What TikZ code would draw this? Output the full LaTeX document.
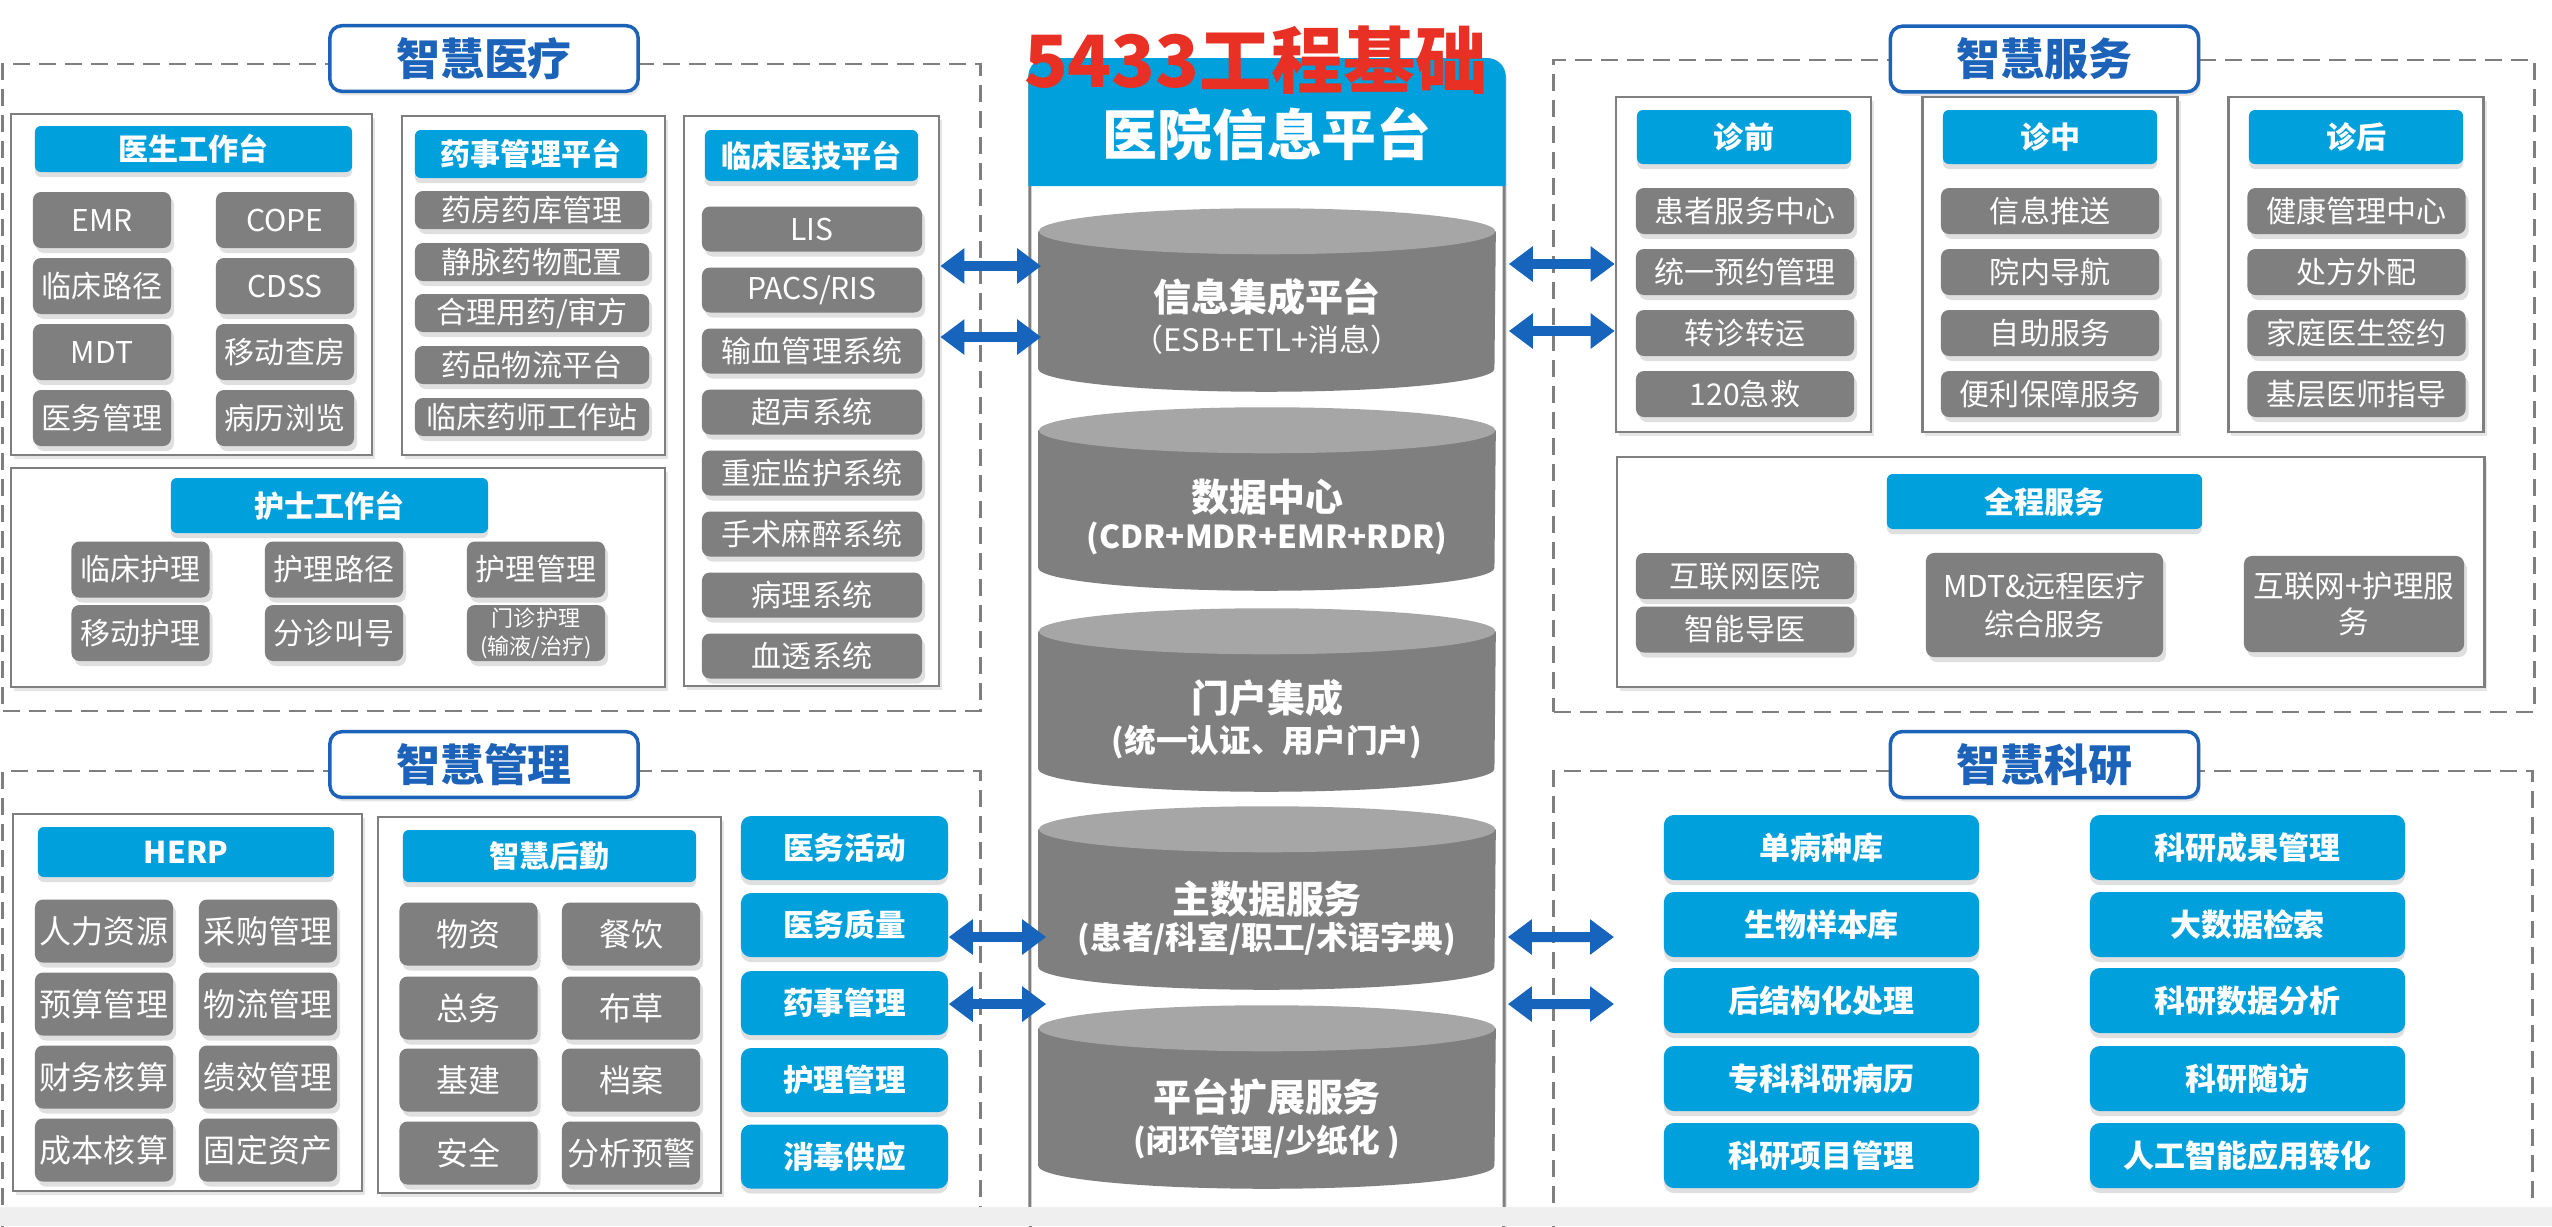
\documentclass[tikz,border=0pt]{standalone}
\usepackage{fontspec}
\setmainfont{Noto Sans CJK SC}
\usetikzlibrary{shadows,arrows.meta}
\definecolor{hblue}{RGB}{0,160,220}
\definecolor{tblue}{RGB}{28,98,184}
\definecolor{ablue}{RGB}{22,100,188}
\definecolor{bgray}{RGB}{127,127,127}
\definecolor{cgray}{RGB}{166,166,166}
\definecolor{redtxt}{RGB}{232,48,36}
\definecolor{band}{RGB}{239,239,239}
\newcommand{\fs}[1]{\fontsize{#1}{#1}\selectfont}
\newcommand{\dbcyl}[1]{%
  \fill[bgray] ([yshift=-.23cm]#1.north west) -- ([yshift=.23cm]#1.south west)
    arc[start angle=180, end angle=360, x radius=2.28cm, y radius=.23cm]
    -- ([yshift=-.23cm]#1.north east) -- cycle;
  \fill[cgray] ([yshift=-.23cm]#1.north) ellipse[x radius=2.28cm, y radius=.23cm];}

\begin{document}
\begin{tikzpicture}[x=0.01cm,y=-0.01cm]
\tikzstyle{area}=[draw=bgray, line width=.025cm, dash pattern=on .17cm off .09cm]
\tikzstyle{ttl}=[draw=tblue, line width=.035cm, fill=white, rounded corners=.12cm, text=tblue, font=\bfseries\fs{12.5}, minimum width=3.08cm, minimum height=.63cm, drop shadow={shadow xshift=.02cm, shadow yshift=-.04cm, opacity=.2}]
\tikzstyle{panel}=[draw=bgray, line width=.025cm, fill=white, drop shadow={shadow xshift=.03cm, shadow yshift=-.04cm, opacity=.2}]
\tikzstyle{hdr}=[fill=hblue, text=white, font=\bfseries\fs{8.54}, rounded corners=.06cm, inner sep=0pt, drop shadow={shadow xshift=0cm, shadow yshift=-.05cm, opacity=.25}]
\tikzstyle{item}=[fill=bgray, text=white, font=\fs{8.54}, rounded corners=.08cm, inner sep=0pt, drop shadow={shadow xshift=.03cm, shadow yshift=-.05cm, opacity=.25}]
\tikzstyle{bitem}=[hdr, rounded corners=.1cm]
\tikzstyle{ys}=[minimum width=1.38cm, minimum height=.56cm]
\tikzstyle{yf}=[minimum width=2.34cm, minimum height=.38cm]
\tikzstyle{yj}=[minimum width=2.20cm, minimum height=.45cm]
\tikzstyle{zf}=[minimum width=2.18cm, minimum height=.46cm]
\tikzstyle{zfp}=[minimum width=2.55cm, minimum height=3.35cm]
\tikzstyle{zfh}=[minimum width=2.14cm, minimum height=.54cm]
\tikzstyle{gl}=[minimum width=1.38cm, minimum height=.63cm, font=\fs{9.1}]
\tikzstyle{gb}=[minimum width=2.07cm, minimum height=.64cm, font=\bfseries\fs{8.7}]
\tikzstyle{ky}=[minimum width=3.15cm, minimum height=.65cm, font=\bfseries\fs{8.8}]
\tikzstyle{cyl}=[minimum width=4.56cm, minimum height=1.82cm, inner sep=0pt]
\tikzstyle{ctitle}=[text=white, font=\bfseries\fs{10.8}]
\tikzstyle{csub}=[text=white, font=\bfseries\fs{9}]
\tikzstyle{link}=[draw=ablue, line width=.1cm, arrows={Triangle[width=.34cm,length=.24cm]-Triangle[width=.34cm,length=.24cm]}]
\useasboundingbox (0,0) rectangle (2552,1226);
\fill[white] (0,0) rectangle (2552,1226);

\node (a1) [area, minimum width=9.77cm, minimum height=6.47cm] at (491.5,387.5) {};
\node (a2) [area, minimum width=9.80cm, minimum height=6.52cm] at (2044,386) {};
\node (a3) [area, minimum width=9.77cm, minimum height=4.89cm] at (491.5,1015.5) {};
\node (a4) [area, minimum width=9.78cm, minimum height=4.89cm] at (2043,1015.5) {};
\node (t1) [ttl] at (484,58.5) {智慧医疗};
\node (t2) [ttl] at (2044.5,59) {智慧服务};
\node (t3) [ttl] at (484,764.5) {智慧管理};
\node (t4) [ttl] at (2044.5,764.5) {智慧科研};

\node (ysp) [panel, minimum width=3.61cm, minimum height=3.41cm] at (191.5,284.5) {};
\node (ysh) [hdr, minimum width=3.17cm, minimum height=.46cm] at (193.5,149) {医生工作台};
\node (emr) [item, ys] at (102,220) {EMR};
\node (cope) [item, ys] at (285,220) {COPE};
\node (lclj) [item, ys] at (102,286) {临床路径};
\node (cdss) [item, ys] at (285,286) {CDSS};
\node (mdt) [item, ys] at (102,352) {MDT};
\node (ydcf) [item, ys] at (285,352) {移动查房};
\node (ywgl) [item, ys] at (102,418) {医务管理};
\node (bllz) [item, ys] at (285,418) {病历浏览};

\node (ysgp) [panel, minimum width=2.63cm, minimum height=3.39cm] at (533.5,285.5) {};
\node (ysgh) [hdr, minimum width=2.32cm, minimum height=.48cm] at (531,154) {药事管理平台};
\node (yfyk) [item, yf] at (532,210) {药房药库管理};
\node (jmyw) [item, yf] at (532,262) {静脉药物配置};
\node (hlyy) [item, yf] at (532,313) {合理用药/审方};
\node (ypwl) [item, yf] at (532,365) {药品物流平台};
\node (lcys) [item, yf] at (532,417) {临床药师工作站};

\node (yjp) [panel, minimum width=2.55cm, minimum height=5.70cm] at (811.5,401) {};
\node (yjh) [hdr, minimum width=2.13cm, minimum height=.51cm] at (811.5,155.5) {临床医技平台};
\node (lis) [item, yj] at (812,229) {LIS};
\node (pacs) [item, yj] at (812,290) {PACS/RIS};
\node (sxgl) [item, yj] at (812,351) {输血管理系统};
\node (csxt) [item, yj] at (812,412) {超声系统};
\node (zzjh) [item, yj] at (812,473) {重症监护系统};
\node (ssmz) [item, yj] at (812,534) {手术麻醉系统};
\node (blxt) [item, yj] at (812,595) {病理系统};
\node (xtxt) [item, yj] at (812,656) {血透系统};

\node (hsp) [panel, minimum width=6.54cm, minimum height=2.19cm] at (338,577.5) {};
\node (hsh) [hdr, minimum width=3.17cm, minimum height=.55cm] at (329.5,505.5) {护士工作台};
\node (lchl) [item, ys] at (140.5,569.5) {临床护理};
\node (ydhl) [item, ys] at (140.5,633) {移动护理};
\node (hllj) [item, ys] at (334,569.5) {护理路径};
\node (fzjh) [item, ys] at (334,633) {分诊叫号};
\node (hlgl) [item, ys] at (536,569.5) {护理管理};
\node (mzhl) [item, ys, font=\fontsize{6.26}{8}\selectfont, align=center] at (536,633) {门诊护理\\(输液/治疗)};

\node (zqp) [panel, zfp] at (1743.5,264.5) {};
\node (zzp) [panel, zfp] at (2050,264.5) {};
\node (zhp) [panel, zfp] at (2356,264.5) {};
\node (zqh) [hdr, zfh] at (1744,137) {诊前};
\node (zzh) [hdr, zfh] at (2050,137) {诊中};
\node (zhh) [hdr, zfh] at (2356,137) {诊后};
\node (hzfw) [item, zf] at (1745,211) {患者服务中心};
\node (tyyy) [item, zf] at (1745,272) {统一预约管理};
\node (zzzy) [item, zf] at (1745,333) {转诊转运};
\node (jijiu) [item, zf] at (1745,394) {120急救};
\node (xxts) [item, zf] at (2050,211) {信息推送};
\node (ynd) [item, zf] at (2050,272) {院内导航};
\node (zzfw) [item, zf] at (2050,333) {自助服务};
\node (blbz) [item, zf] at (2050,394) {便利保障服务};
\node (jkgl) [item, zf] at (2356.5,211) {健康管理中心};
\node (cfwp) [item, zf] at (2356.5,272) {处方外配};
\node (jtys) [item, zf] at (2356.5,333) {家庭医生签约};
\node (jcys) [item, zf] at (2356.5,394) {基层医师指导};

\node (qcp) [panel, minimum width=8.67cm, minimum height=2.30cm] at (2050.5,572) {};
\node (qch) [hdr, minimum width=3.15cm, minimum height=.55cm] at (2044.5,501.5) {全程服务};
\node (hlwy) [item, zf] at (1745,576) {互联网医院};
\node (zndy) [item, zf] at (1745,629.5) {智能导医};
\node (mdty) [item, minimum width=2.37cm, minimum height=1.04cm, font=\fontsize{8.54}{10.8}\selectfont, align=center] at (2044.5,605) {MDT\&远程医疗\\综合服务};
\node (hlhl) [item, minimum width=2.20cm, minimum height=.96cm, font=\fontsize{8.7}{10.3}\selectfont, align=center] at (2354,604) {互联网+护理服\\务};

\node (herpp) [panel, minimum width=3.49cm, minimum height=3.77cm] at (187.5,1002.5) {};
\node (herph) [hdr, minimum width=2.96cm, minimum height=.50cm] at (186,852) {HERP};
\node (rlzy) [item, gl] at (104,931) {人力资源};
\node (cggl) [item, gl] at (268,931) {采购管理};
\node (ysgl) [item, gl] at (104,1004) {预算管理};
\node (wlgl) [item, gl] at (268,1004) {物流管理};
\node (cwhs) [item, gl] at (104,1077) {财务核算};
\node (jxgl) [item, gl] at (268,1077) {绩效管理};
\node (cbhs) [item, gl] at (104,1150) {成本核算};
\node (gdzc) [item, gl] at (268,1150) {固定资产};

\node (hqp) [panel, minimum width=3.43cm, minimum height=3.76cm] at (549.5,1005) {};
\node (hqh) [hdr, minimum width=2.93cm, minimum height=.52cm] at (549.5,856) {智慧后勤};
\node (wz) [item, gl] at (468.5,934) {物资};
\node (cy) [item, gl] at (631,934) {餐饮};
\node (zw) [item, gl] at (468.5,1008) {总务};
\node (bc) [item, gl] at (631,1008) {布草};
\node (jj) [item, gl] at (468.5,1080) {基建};
\node (da) [item, gl] at (631,1080) {档案};
\node (aq) [item, gl] at (468.5,1153) {安全};
\node (fxyj) [item, gl] at (631,1153) {分析预警};

\node (ywhd) [bitem, gb] at (844.5,848) {医务活动};
\node (ywzl) [bitem, gb] at (844.5,925) {医务质量};
\node (ysgl2) [bitem, gb] at (844.5,1003) {药事管理};
\node (hlgl2) [bitem, gb] at (844.5,1080) {护理管理};
\node (xdgy) [bitem, gb] at (844.5,1156.5) {消毒供应};

\node (dbzk) [bitem, ky] at (1821.5,847.5) {单病种库};
\node (swyb) [bitem, ky] at (1821.5,924.5) {生物样本库};
\node (hjgh) [bitem, ky] at (1821.5,1000.5) {后结构化处理};
\node (zkbl) [bitem, ky] at (1821.5,1078.5) {专科科研病历};
\node (kyxm) [bitem, ky] at (1821.5,1155.5) {科研项目管理};
\node (kycg) [bitem, ky] at (2247.5,847.5) {科研成果管理};
\node (dsjs) [bitem, ky] at (2247.5,924.5) {大数据检索};
\node (kysj) [bitem, ky] at (2247.5,1000.5) {科研数据分析};
\node (kysf) [bitem, ky] at (2247.5,1078.5) {科研随访};
\node (rgzn) [bitem, ky] at (2247.5,1155.5) {人工智能应用转化};

\node (plat) [draw=bgray, line width=.03cm, fill=white, rounded corners=.18cm, minimum width=4.74cm, minimum height=11.8cm, drop shadow={shadow xshift=.03cm, shadow yshift=-.04cm, opacity=.2}] at (1267,650) {};
\fill[hblue] ([yshift=-1.28cm]plat.north west) [rounded corners=.18cm] -- (plat.north west) -- (plat.north east) -- ([yshift=-.6cm]plat.north east) [sharp corners] -- ([yshift=-1.28cm]plat.north east) -- cycle;
\node (pltt) [text=white, font=\bfseries\fs{15.6}] at (1267,134.5) {医院信息平台};
\node (redt) [text=redtxt, font=\bfseries\fs{20.5}] at (1256,60) {5433工程基础};

\node (c1) [cyl] at (1267,300) {};
\dbcyl{c1}
\node (c1t) [ctitle] at (1267,297) {信息集成平台};
\node (c1s) [csub, font=\fs{8.8}] at (1267,340) {（ESB+ETL+消息）};
\node (c2) [cyl] at (1267,499) {};
\dbcyl{c2}
\node (c2t) [ctitle] at (1267,497) {数据中心};
\node (c2s) [csub] at (1267,538) {(CDR+MDR+EMR+RDR)};
\node (c3) [cyl] at (1267,700) {};
\dbcyl{c3}
\node (c3t) [ctitle] at (1267,698) {门户集成};
\node (c3s) [csub] at (1267,742) {(统一认证、用户门户)};
\node (c4) [cyl] at (1267,898) {};
\dbcyl{c4}
\node (c4t) [ctitle] at (1267,899) {主数据服务};
\node (c4s) [csub] at (1267,939) {(患者/科室/职工/术语字典)};
\node (c5) [cyl] at (1267,1097) {};
\dbcyl{c5}
\node (c5t) [ctitle] at (1267,1097) {平台扩展服务};
\node (c5s) [csub] at (1267,1142) {(闭环管理/少纸化 )};

\coordinate (p1) at ([yshift=.34cm,xshift=.03cm]c1.west);
\coordinate (p2) at ([yshift=-.37cm,xshift=.03cm]c1.west);
\draw[link] (yjp.east |- p1) -- (p1);
\draw[link] (yjp.east |- p2) -- (p2);
\coordinate (q1) at ([yshift=.36cm,xshift=.13cm]c1.east);
\coordinate (q2) at ([yshift=-.31cm,xshift=.13cm]c1.east);
\draw[link] (q1) -- (zqp.west |- q1);
\draw[link] (q2) -- (zqp.west |- q2);
\coordinate (r1) at ([yshift=-.39cm,xshift=.08cm]c4.west);
\coordinate (r2) at ([yshift=-1.06cm,xshift=.08cm]c4.west);
\draw[link] (ywzl.east |- r1) -- (r1);
\draw[link] (ywzl.east |- r2) -- (r2);
\coordinate (s1) at ([yshift=-.39cm,xshift=.12cm]c4.east);
\coordinate (s2) at ([yshift=-1.06cm,xshift=.12cm]c4.east);
\coordinate (u1) at (1614,937);
\coordinate (u2) at (1614,1004);
\draw[link] (s1) -- (u1);
\draw[link] (s2) -- (u2);

\fill[band] (0,1207) rectangle (2552,1226);
\end{tikzpicture}
\end{document}
